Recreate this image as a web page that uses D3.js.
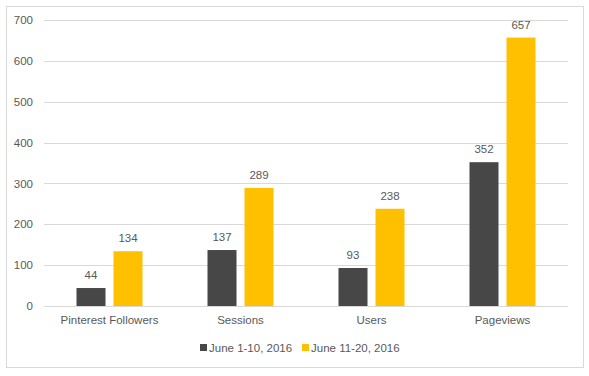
<!DOCTYPE html>
<html><head><meta charset="utf-8">
<script src="https://cdn.jsdelivr.net/npm/d3@7"></script>
<style>body{margin:0;background:#fff}svg{display:block}text{font-family:"Liberation Sans",Arial,sans-serif;fill:#595959}</style>
</head><body><svg id="c" width="589" height="376"></svg>
<script>
const categories = ["Pinterest Followers","Sessions","Users","Pageviews"];
const seriesNames = ["June 1-10, 2016","June 11-20, 2016"];
const series1 = [44,137,93,352];
const series2 = [134,289,238,657];
const yTicks = [0,100,200,300,400,500,600,700];
const colors = ["#474747","#FFC000"];

(function(){
const svg = d3.select("#c");
svg.append("rect").attr("x",6.5).attr("y",6.5).attr("width",577).attr("height",361)
  .attr("fill","#fff").attr("stroke","#d9d9d9");

const pLeft=44,pRight=568,pTop=20,pBottom=306;
const x = d3.scaleBand().domain(categories).range([pLeft,pRight]);
const y = d3.scaleLinear().domain([0,700]).range([pBottom,pTop]);
const barW = 29, gap = 8;

const g = svg.append("g");
yTicks.forEach(t=>{
  g.append("line").attr("x1",pLeft).attr("x2",pRight).attr("y1",Math.round(y(t))+0.5).attr("y2",Math.round(y(t))+0.5)
   .attr("stroke","#d9d9d9");
});
const yAxis = d3.axisLeft(y).tickValues(yTicks).tickSize(0).tickPadding(11);
const ya = svg.append("g").attr("transform",`translate(${pLeft},0)`).call(yAxis);
ya.select(".domain").remove();
ya.selectAll("text").style("font-size","11.5px").attr("fill","#595959").style("font-family","Liberation Sans, Arial, sans-serif");

const xAxis = d3.axisBottom(x).tickSize(0).tickPadding(10);
const xa = svg.append("g").attr("transform",`translate(0,${pBottom})`).call(xAxis);
xa.select(".domain").remove();
xa.selectAll("text").style("font-size","11.5px").attr("fill","#595959").style("font-family","Liberation Sans, Arial, sans-serif");

const data = [series1, series2];
data.forEach((vals,si)=>{
  categories.forEach((c,i)=>{
    const cx = x(c)+x.bandwidth()/2;
    const bx = si===0 ? cx - gap/2 - barW : cx + gap/2;
    svg.append("rect").attr("x",bx).attr("y",y(vals[i])).attr("width",barW).attr("height",y(0)-y(vals[i]))
      .attr("fill",colors[si]);
    svg.append("text").attr("x",bx+barW/2).attr("y",y(vals[i])-9).attr("text-anchor","middle")
      .style("font-size","11.5px").attr("fill","#404040").text(vals[i]);
  });
});

const leg = [{x:200,name:seriesNames[0],c:colors[0]},{x:302,name:seriesNames[1],c:colors[1]}];
leg.forEach(l=>{
  svg.append("rect").attr("x",l.x).attr("y",344).attr("width",7).attr("height",7).attr("fill",l.c);
  svg.append("text").attr("x",l.x+9).attr("y",351.5).style("font-size","11.5px").text(l.name);
});
})();
</script></body></html>
